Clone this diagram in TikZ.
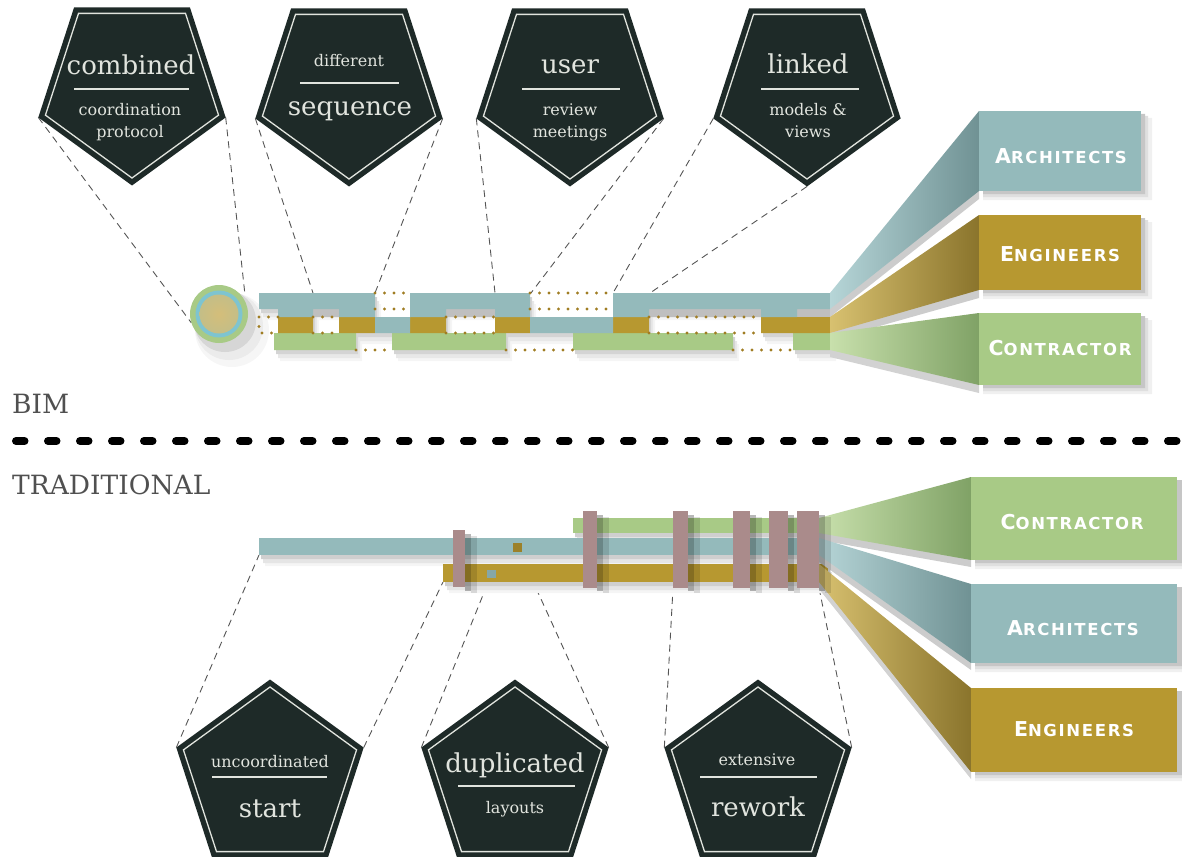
\documentclass[tikz,border=0pt]{standalone}
\usepackage{fontspec}
\setmainfont{DejaVu Serif}
\newfontfamily\blockfont[LetterSpace=10]{DejaVu Sans}
\usetikzlibrary{shapes.geometric}
\pgfdeclarelayer{bg}
\pgfsetlayers{bg,main}

\definecolor{pentbg}{RGB}{30,42,40}
\definecolor{pentln}{RGB}{225,228,222}
\definecolor{blueC}{RGB}{148,186,187}
\definecolor{goldC}{RGB}{183,152,48}
\definecolor{greenC}{RGB}{168,202,134}
\definecolor{mauveC}{RGB}{170,139,139}
\definecolor{dotC}{RGB}{160,125,35}
\definecolor{connC}{RGB}{85,85,85}
\definecolor{labC}{RGB}{80,80,80}
\definecolor{ringB}{RGB}{126,196,208}
\definecolor{tanL}{RGB}{212,190,122}
\definecolor{tanD}{RGB}{196,190,135}
\definecolor{fanBlueL}{RGB}{182,213,215}
\definecolor{fanBlueR}{RGB}{112,146,148}
\definecolor{fanGoldL}{RGB}{216,193,112}
\definecolor{fanGoldR}{RGB}{138,116,44}
\definecolor{fanGreenL}{RGB}{200,224,172}
\definecolor{fanGreenR}{RGB}{128,162,102}

\newcommand\blk[2]{{\fontsize{20.5}{22}\selectfont #1}{\fontsize{16.5}{18}\selectfont #2}}

\newcommand\bimblue{(259,293) rectangle (375,309) (278,308) rectangle (313,317) (339,308) rectangle (375,317) (375,317) rectangle (410,333) (410,293) rectangle (530,309) (410,308) rectangle (446,317) (495,308) rectangle (530,317) (530,317) rectangle (613,333) (613,293) rectangle (830,309) (613,308) rectangle (649,317) (761,308) rectangle (797,317)}
\newcommand\bimgold{(278,317) rectangle (313,333) (339,317) rectangle (375,333) (410,317) rectangle (446,333) (495,317) rectangle (530,333) (613,317) rectangle (649,333) (761,317) rectangle (830,333)}
\newcommand\bimgreen{(274,333) rectangle (356,350) (392,333) rectangle (506,350) (573,333) rectangle (733,350) (793,333) rectangle (830,350)}
\newcommand\tradbars{(573,518) rectangle (828,533) (259,538) rectangle (828,555) (443,564) rectangle (828,582)}

\begin{document}
\begin{tikzpicture}[x=1pt,y=-1pt,
  pentbox/.style={regular polygon, regular polygon sides=5, fill=pentbg, minimum size=197pt, inner sep=0pt, outer sep=0pt},
  pentline/.style={regular polygon, regular polygon sides=5, draw=pentln, line width=1.3pt, minimum size=182pt, inner sep=0pt, outer sep=0pt},
  pointdown/.style={shape border rotate=180},
  connline/.style={draw=connC, line width=0.9pt, dash pattern=on 7pt off 5pt},
  ptbig/.style={text=pentln, font=\fontsize{26}{30}\selectfont, inner sep=0pt, anchor=base},
  ptsmall/.style={text=pentln, font=\fontsize{16}{18}\selectfont, inner sep=0pt, anchor=base},
  ptrule/.style={draw=pentln, line width=2.4pt},
  dotline/.style={draw=dotC, line width=3.4pt, line cap=round, dash pattern=on 0pt off 9.5pt},
  boxlab/.style={text=white, font=\blockfont\bfseries, inner sep=0pt},
  sidelab/.style={text=labC, font=\fontsize{26.5}{30}\selectfont, inner sep=0pt, anchor=base west},
  barnode/.style={rectangle, inner sep=0pt, outer sep=0pt, anchor=north west},
  sepdash/.style={draw=black, line width=8pt, line cap=round, dash pattern=on 8.5pt off 23.5pt},
]
\useasboundingbox (0,0) rectangle (1182,856);

% ================= BIM =================
% circle with soft shadow
\fill[gray!7] (232,330) circle (37);
\fill[gray!16] (229,326) circle (34);
\fill[gray!32] (225,321) circle (31);
\node[circle, fill=greenC, minimum size=58pt, inner sep=0pt, outer sep=0pt] (circ) at (219,314) {};
\fill[ringB] (219,314) circle (23.5);
\shade[inner color=tanL, outer color=tanD] (219,314) circle (19.5);

% bar shadows (layered for softness)
\begin{scope}[shift={(6,11)}]
  \fill[gray!8] \bimblue \bimgold \bimgreen;
\end{scope}
\begin{scope}[shift={(4,8)}]
  \fill[gray!18] \bimblue \bimgold \bimgreen;
\end{scope}
\begin{scope}[shift={(2,4)}]
  \fill[gray!34] \bimblue \bimgold \bimgreen;
\end{scope}
\fill[gray!50] (313,309) rectangle (339,317) (446,309) rectangle (495,317) (649,309) rectangle (761,317) (797,309) rectangle (830,317);
\fill[greenC] \bimgreen;
\fill[goldC] \bimgold;
\fill[blueC] \bimblue;

% dotted outlines of missing parts
\draw[dotline] (278,317) -- (259,317) -- (259,333) -- (278,333);
\draw[dotline] (313,317) -- (339,317) (313,333) -- (339,333);
\draw[dotline] (446,317) -- (495,317) (446,333) -- (495,333);
\draw[dotline] (649,317) -- (761,317) (649,333) -- (761,333);
\draw[dotline] (375,293) -- (410,293) (375,309) -- (410,309);
\draw[dotline] (530,293) -- (613,293) (530,309) -- (613,309);
\draw[dotline] (356,350) -- (392,350) (506,350) -- (573,350) (733,350) -- (793,350);

% BIM fans
\fill[gray!40] (830,301) -- (979,119) -- (979,199) -- (830,317) -- cycle;
\fill[gray!40] (830,324) -- (979,223) -- (979,298) -- (830,340) -- cycle;
\fill[gray!35] (830,340) -- (979,321) -- (979,393) -- (830,357) -- cycle;
\fill[gray!12] (983,118) rectangle (1152,200) (983,222) rectangle (1152,299) (983,320) rectangle (1152,394);
\fill[gray!25] (983,116) rectangle (1148,197) (983,220) rectangle (1148,296) (983,318) rectangle (1148,391);
\fill[gray!45] (983,114) rectangle (1145,194) (983,218) rectangle (1145,293) (983,316) rectangle (1145,388);
\shade[left color=fanBlueL, right color=fanBlueR] (830,293) -- (979,111) -- (979,191) -- (830,309) -- cycle;
\shade[left color=fanGoldL, right color=fanGoldR] (830,317) -- (979,215) -- (979,290) -- (830,333) -- cycle;
\shade[left color=fanGreenL, right color=fanGreenR] (830,333) -- (979,313) -- (979,385) -- (830,350) -- cycle;

\node[barnode, fill=blueC, minimum width=162pt, minimum height=80pt] (bArch) at (979,111) {};
\node[barnode, fill=goldC, minimum width=162pt, minimum height=75pt] (bEng) at (979,215) {};
\node[barnode, fill=greenC, minimum width=162pt, minimum height=72pt] (bCon) at (979,313) {};
\node[boxlab] (bArchT) at (1061,156) {\blk{A}{RCHITECTS}};
\node[boxlab] (bEngT) at (1060,254) {\blk{E}{NGINEERS}};
\node[boxlab] (bConT) at (1060,348.5) {\blk{C}{ONTRACTOR}};

% endpoints on BIM bars
\coordinate (e2a) at (313,293);
\coordinate (e2b) at (375,293);
\coordinate (e3a) at (495,293);
\coordinate (e3b) at (531,293);
\coordinate (e4a) at (613,293);
\coordinate (e4b) at (650,293);

% top pentagons
\node[pentbox, pointdown] (p1) at (132,87) {};
\node[pentline, pointdown] (p1i) at (132,87) {};
\node[ptbig] (p1a) at (131,75) {combined};
\draw[ptrule] (74,89) -- (189,89);
\node[ptsmall] (p1b) at (130,115) {coordination};
\node[ptsmall] (p1c) at (130,137) {protocol};

\node[pentbox, pointdown] (p2) at (349,88) {};
\node[pentline, pointdown] (p2i) at (349,88) {};
\node[ptsmall] (p2a) at (349,67) {different};
\draw[ptrule] (300,83) -- (399,83);
\node[ptbig] (p2b) at (350,115) {sequence};

\node[pentbox, pointdown] (p3) at (570,88) {};
\node[pentline, pointdown] (p3i) at (570,88) {};
\node[ptbig] (p3a) at (570,74) {user};
\draw[ptrule] (522,89) -- (620,89);
\node[ptsmall] (p3b) at (570,115) {review};
\node[ptsmall] (p3c) at (570,137) {meetings};

\node[pentbox, pointdown] (p4) at (807,88) {};
\node[pentline, pointdown] (p4i) at (807,88) {};
\node[ptbig] (p4a) at (808,74) {linked};
\draw[ptrule] (761,89) -- (859,89);
\node[ptsmall] (p4b) at (808,115) {models \&};
\node[ptsmall] (p4c) at (808,137) {views};

% ================= separator & labels =================
\node[sidelab] (bimL) at (12,413) {BIM};
\coordinate (sepA) at (16,441);
\coordinate (sepB) at (1195,441);
\draw[sepdash] (sepA) -- (sepB);
\node[sidelab] (tradL) at (12,494) {TRADITIONAL};

% ================= TRADITIONAL =================
\begin{scope}[shift={(6,11)}]
  \fill[gray!8] \tradbars;
\end{scope}
\begin{scope}[shift={(4,8)}]
  \fill[gray!20] \tradbars;
\end{scope}
\begin{scope}[shift={(2,4)}]
  \fill[gray!38] \tradbars;
\end{scope}
\node[barnode, fill=greenC, minimum width=255pt, minimum height=15pt] (tGreen) at (573,518) {};
\node[barnode, fill=blueC, minimum width=569pt, minimum height=17pt] (tBlue) at (259,538) {};
\node[barnode, fill=goldC, minimum width=385pt, minimum height=18pt] (tGold) at (443,564) {};
\node[barnode, fill=goldC!85!black, minimum width=9pt, minimum height=9pt] (sqO) at (513,543) {};
\node[barnode, fill=blueC!90!black, minimum width=9pt, minimum height=8pt] (sqB) at (487,570) {};

% traditional fans
\fill[gray!40] (819,524) -- (971,484) -- (971,567) -- (819,540) -- cycle;
\fill[gray!40] (819,545) -- (971,591) -- (971,670) -- (819,562) -- cycle;
\fill[gray!35] (819,571) -- (971,695) -- (971,779) -- (819,589) -- cycle;
\fill[gray!12] (975,484) rectangle (1190,569) (975,591) rectangle (1190,672) (975,695) rectangle (1190,781);
\fill[gray!25] (975,482) rectangle (1186,566) (975,589) rectangle (1186,669) (975,693) rectangle (1186,778);
\fill[gray!45] (975,480) rectangle (1182,563) (975,587) rectangle (1182,666) (975,691) rectangle (1182,775);
\shade[left color=fanGreenL, right color=fanGreenR] (819,518) -- (971,477) -- (971,560) -- (819,533) -- cycle;
\shade[left color=fanBlueL, right color=fanBlueR] (819,538) -- (971,584) -- (971,663) -- (819,555) -- cycle;
\shade[left color=fanGoldL, right color=fanGoldR] (819,564) -- (971,688) -- (971,772) -- (819,582) -- cycle;

\node[barnode, fill=greenC, minimum width=206pt, minimum height=83pt] (tCon) at (971,477) {};
\node[barnode, fill=blueC, minimum width=206pt, minimum height=79pt] (tArch) at (971,584) {};
\node[barnode, fill=goldC, minimum width=206pt, minimum height=84pt] (tEng) at (971,688) {};
\node[boxlab] (tConT) at (1072,522) {\blk{C}{ONTRACTOR}};
\node[boxlab] (tArchT) at (1073,628) {\blk{A}{RCHITECTS}};
\node[boxlab] (tEngT) at (1074,729.5) {\blk{E}{NGINEERS}};

% mauve bars with shadows
\foreach \xa/\xb/\ya in {453/465/530, 583/597/511, 673/688/511, 733/750/511, 769/788/511, 797/819/511}{
  \fill[black, opacity=0.28] (\xb,\ya+4) rectangle (\xb+6,591);
  \fill[black, opacity=0.12] (\xb+6,\ya+6) rectangle (\xb+12,593);
}
\node[barnode, fill=mauveC, minimum width=12pt, minimum height=57pt] (m1) at (453,530) {};
\node[barnode, fill=mauveC, minimum width=14pt, minimum height=77pt] (m2) at (583,511) {};
\node[barnode, fill=mauveC, minimum width=15pt, minimum height=77pt] (m3) at (673,511) {};
\node[barnode, fill=mauveC, minimum width=17pt, minimum height=77pt] (m4) at (733,511) {};
\node[barnode, fill=mauveC, minimum width=19pt, minimum height=77pt] (m5) at (769,511) {};
\node[barnode, fill=mauveC, minimum width=22pt, minimum height=77pt] (m6) at (797,511) {};

% bottom pentagons
\node[pentbox] (q1) at (270,778) {};
\node[pentline] (q1i) at (270,778) {};
\node[ptsmall] (q1a) at (270,767) {uncoordinated};
\draw[ptrule] (212,777) -- (327,777);
\node[ptbig] (q1b) at (270,817) {start};

\node[pentbox] (q2) at (515,778) {};
\node[pentline] (q2i) at (515,778) {};
\node[ptbig] (q2a) at (515,772) {duplicated};
\draw[ptrule] (458,786) -- (575,786);
\node[ptsmall] (q2b) at (515,813) {layouts};

\node[pentbox] (q3) at (758,778) {};
\node[pentline] (q3i) at (758,778) {};
\node[ptsmall] (q3a) at (757,765) {extensive};
\draw[ptrule] (700,777) -- (817,777);
\node[ptbig] (q3b) at (758,816) {rework};

% ================= connectors =================
\begin{pgfonlayer}{bg}
\draw[connline] (p1.corner 5) -- (circ.198);
\draw[connline] (p1.corner 2) -- (circ.22);
\draw[connline] (p2.corner 5) -- (e2a);
\draw[connline] (p2.corner 2) -- (e2b);
\draw[connline] (p3.corner 5) -- (e3a);
\draw[connline] (p3.corner 2) -- (e3b);
\draw[connline] (p4.corner 5) -- (e4a);
\draw[connline] (p4.corner 1) -- (e4b);
\draw[connline] (q1.corner 2) -- (tBlue.south west);
\draw[connline] (q1.corner 5) -- (tGold.south west);
\draw[connline] (q2.corner 2) -- (sqB.center);
\draw[connline] (q2.corner 5) -- (sqO.center);
\draw[connline] (q3.corner 2) -- (m3.south west);
\draw[connline] (q3.corner 5) -- (m6.south east);
\end{pgfonlayer}
\end{tikzpicture}
\end{document}
